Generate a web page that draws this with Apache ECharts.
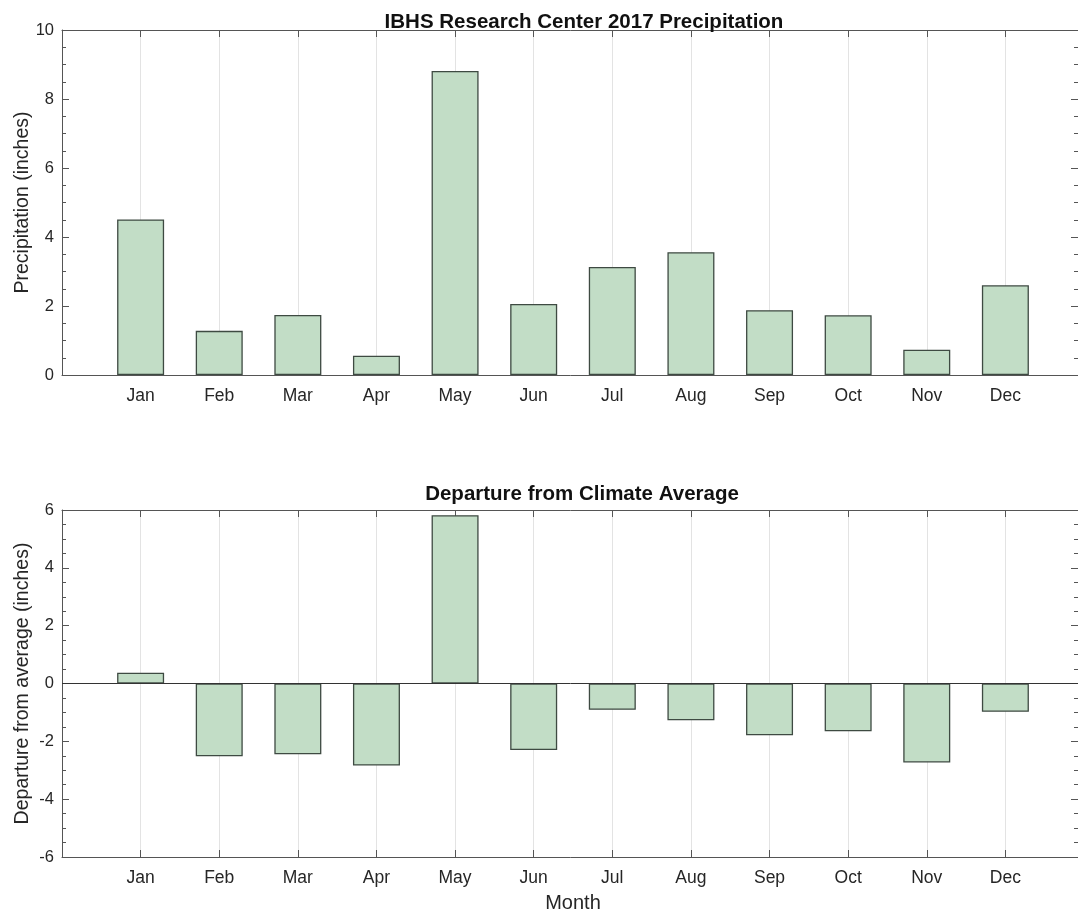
<!DOCTYPE html>
<html>
<head>
<meta charset="utf-8">
<script src="https://cdn.jsdelivr.net/npm/echarts@6/dist/echarts.min.js"></script>
<style>
html,body{margin:0;padding:0;background:#fff;}
#c{width:1078px;height:913px;}
</style>
</head>
<body>
<div id="c"></div>
<script>
const months = ['Jan','Feb','Mar','Apr','May','Jun','Jul','Aug','Sep','Oct','Nov','Dec'];
const precipitation = [4.51, 1.28, 1.74, 0.56, 8.81, 2.06, 3.13, 3.56, 1.88, 1.73, 0.73, 2.60];
const departure = [0.37, -2.52, -2.45, -2.84, 5.82, -2.30, -0.91, -1.27, -1.79, -1.65, -2.73, -0.98];
const topTicks = [0, 2, 4, 6, 8, 10];
const bottomTicks = [-6, -4, -2, 0, 2, 4, 6];

const FONT = 'Liberation Sans, Arial, Helvetica, sans-serif';
const TXT = '#262626';
const AX = '#555555';
const BAR = '#c2ddc6';
const EDGE = '#3e4a42';

function xAxisMain(gi, showName) {
  return {
    type: 'value', gridIndex: gi, min: 0, max: 13, interval: 1,
    axisLine: {onZero: false, lineStyle: {color: AX, width: 1}},
    axisTick: {inside: true, length: 7, lineStyle: {color: AX}},
    axisLabel: {
      color: TXT, fontSize: 17.5, fontFamily: FONT, margin: 12,
      formatter: v => (v >= 1 && v <= 12) ? months[v - 1] : ''
    },
    splitLine: {show: true, lineStyle: {color: '#e3e3e3', width: 1}},
    name: showName ? 'Month' : '', nameLocation: 'middle', nameGap: 36,
    nameMoveOverlap: false,
    nameTextStyle: {color: TXT, fontSize: 20, fontFamily: FONT}
  };
}
function xAxisTop(gi) {
  return {
    type: 'value', gridIndex: gi, min: 0, max: 13, interval: 1, position: 'top',
    axisLine: {onZero: false, lineStyle: {color: AX, width: 1}},
    axisTick: {inside: true, length: 7, lineStyle: {color: AX}},
    axisLabel: {show: false}, splitLine: {show: false}
  };
}
function yAxisMain(gi, min, max, name, gap) {
  return {
    type: 'value', gridIndex: gi, min: min, max: max, interval: 2,
    axisLine: {show: true, onZero: false, lineStyle: {color: AX, width: 1}},
    axisTick: {show: true, inside: true, length: 7, lineStyle: {color: AX}},
    minorTick: {show: true, splitNumber: 4, length: 4, lineStyle: {color: AX}},
    axisLabel: {color: TXT, fontSize: 16.5, fontFamily: FONT, margin: 8},
    splitLine: {show: false},
    name: name, nameLocation: 'middle', nameRotate: 90, nameGap: gap,
    nameMoveOverlap: false,
    nameTextStyle: {color: TXT, fontSize: 19.5, fontFamily: FONT}
  };
}
function yAxisRight(gi, min, max) {
  return {
    type: 'value', gridIndex: gi, min: min, max: max, interval: 2, position: 'right', offset: -6,
    axisLine: {show: true, onZero: false, lineStyle: {color: AX, width: 1}},
    axisTick: {show: true, inside: true, length: 7, lineStyle: {color: AX}},
    minorTick: {show: true, splitNumber: 4, length: 4, lineStyle: {color: AX}},
    axisLabel: {show: false}, splitLine: {show: false}
  };
}

const chart = echarts.init(document.getElementById('c'), null, {renderer: 'canvas'});
chart.setOption({
  backgroundColor: '#ffffff',
  animation: false,
  title: [
    {text: 'IBHS Research Center 2017 Precipitation', left: 579, textAlign: 'center', top: 7,
     textStyle: {fontSize: 20.5, fontWeight: 'bold', color: '#111', fontFamily: FONT}},
    {text: 'Departure from Climate Average', left: 577, textAlign: 'center', top: 479,
     textStyle: {fontSize: 20.5, fontWeight: 'bold', color: '#111', fontFamily: FONT}}
  ],
  grid: [
    {left: 62, top: 30, height: 345, width: 1022, outerBoundsMode: 'none', containLabel: false},
    {left: 62, top: 510, height: 347, width: 1022, outerBoundsMode: 'none', containLabel: false}
  ],
  xAxis: [xAxisMain(0, false), xAxisTop(0), xAxisMain(1, true), xAxisTop(1)],
  yAxis: [
    yAxisMain(0, 0, 10, 'Precipitation (inches)', 29),
    yAxisRight(0, 0, 10),
    yAxisMain(1, -6, 6, 'Departure from average (inches)', 29),
    yAxisRight(1, -6, 6)
  ],
  series: [
    {
      type: 'bar', xAxisIndex: 0, yAxisIndex: 0, barWidth: 47,
      data: precipitation.map((v, i) => [i + 1, v]),
      itemStyle: {color: BAR, borderColor: EDGE, borderWidth: 1.3}
    },
    {
      type: 'bar', xAxisIndex: 2, yAxisIndex: 2, barWidth: 47,
      data: departure.map((v, i) => [i + 1, v]),
      itemStyle: {color: BAR, borderColor: EDGE, borderWidth: 1.3},
      markLine: {
        silent: true, symbol: ['none', 'none'], label: {show: false},
        lineStyle: {color: '#333', width: 1, type: 'solid'},
        data: [{yAxis: 0}]
      }
    }
  ]
});
</script>
</body>
</html>
